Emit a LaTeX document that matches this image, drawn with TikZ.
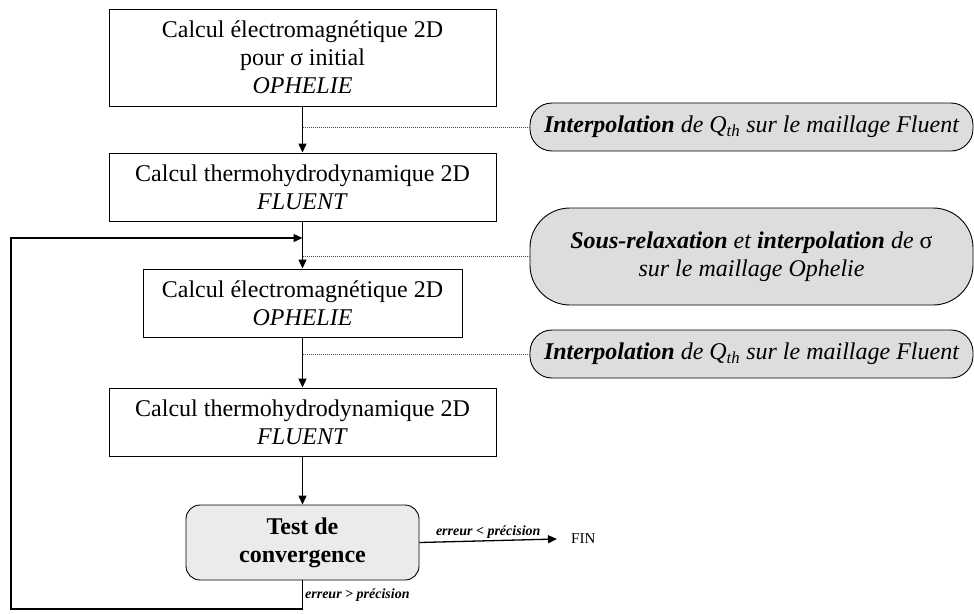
\documentclass[tikz,border=0pt]{standalone}
\usepackage{fontspec}
\setmainfont{Liberation Serif}
\usetikzlibrary{arrows.meta}

\definecolor{pillgray}{RGB}{221,221,221}
\definecolor{testgray}{RGB}{235,235,235}

\tikzset{
  calcbox/.style={draw, line width=0.9pt, align=center, inner sep=0pt,
    font=\fontsize{24}{28}\selectfont},
  pill/.style={draw, line width=0.9pt, fill=pillgray, align=center, inner sep=0pt,
    minimum width=443, font=\fontsize{24}{28}\selectfont\itshape},
  arr/.style={line width=1.3pt, -{Triangle[length=9pt,width=8pt]}},
  link/.style={line width=0.7pt, black!70, dash pattern=on 1pt off 1pt},
  lbl/.style={font=\fontsize{14}{16}\selectfont\bfseries\itshape, inner sep=2pt}
}

\begin{document}
\begin{tikzpicture}[x=1pt,y=-1pt]

\useasboundingbox (0,0) rectangle (974,613);

\node [calcbox, minimum width=387, minimum height=97] (em1) at (302.5,57.5)
  {Calcul électromagnétique 2D\\pour σ initial\\\textit{OPHELIE}};
\node [calcbox, minimum width=387, minimum height=68] (th1) at (302.5,187)
  {Calcul thermohydrodynamique 2D\\\textit{FLUENT}};
\node [calcbox, minimum width=319, minimum height=68] (em2) at (302.5,303)
  {Calcul électromagnétique 2D\\\textit{OPHELIE}};
\node [calcbox, minimum width=387, minimum height=68] (th2) at (302.5,422)
  {Calcul thermohydrodynamique 2D\\\textit{FLUENT}};
\node [calcbox, fill=testgray, rounded corners=14pt, minimum width=233, minimum height=75,
  font=\fontsize{24}{28}\selectfont\bfseries] (test) at (302.5,542.5)
  {Test de\\convergence};

\node [pill, minimum height=48, rounded corners=22pt] (interp1) at (751.5,127)
  {\textbf{Interpolation} de Q\textsubscript{th} sur le maillage Fluent};
\node [pill, minimum height=97, rounded corners=40pt] (relax) at (751.5,256.5)
  {\textbf{Sous-relaxation} et \textbf{interpolation} de {\upshape σ}\\sur le maillage Ophelie};
\node [pill, minimum height=48, rounded corners=22pt] (interp2) at (751.5,354)
  {\textbf{Interpolation} de Q\textsubscript{th} sur le maillage Fluent};

\node [anchor=west, inner sep=0pt, font=\fontsize{15}{17}\selectfont] (fin) at (571,539) {FIN};

\coordinate (loop) at (302.5,238);
\coordinate (corner) at (11,609);

\draw [arr] (em1) -- (th1);
\draw [arr] (th1) -- (em2);
\draw [arr] (em2) -- (th2);
\draw [arr] (th2) -- (test);

\draw [link] (em1.south |- interp1.west) -- (interp1.west);
\draw [link] (loop |- relax.west) -- (relax.west);
\draw [link] (em2.south |- interp2.west) -- (interp2.west);

\draw [arr] (test.east) -- node [lbl, above] {erreur < précision} ([xshift=-14pt]fin.west);
\draw [arr] (test.south) -- node [lbl, right] {erreur > précision} (test.south |- corner)
  -- (corner) |- (loop);

\end{tikzpicture}
\end{document}
